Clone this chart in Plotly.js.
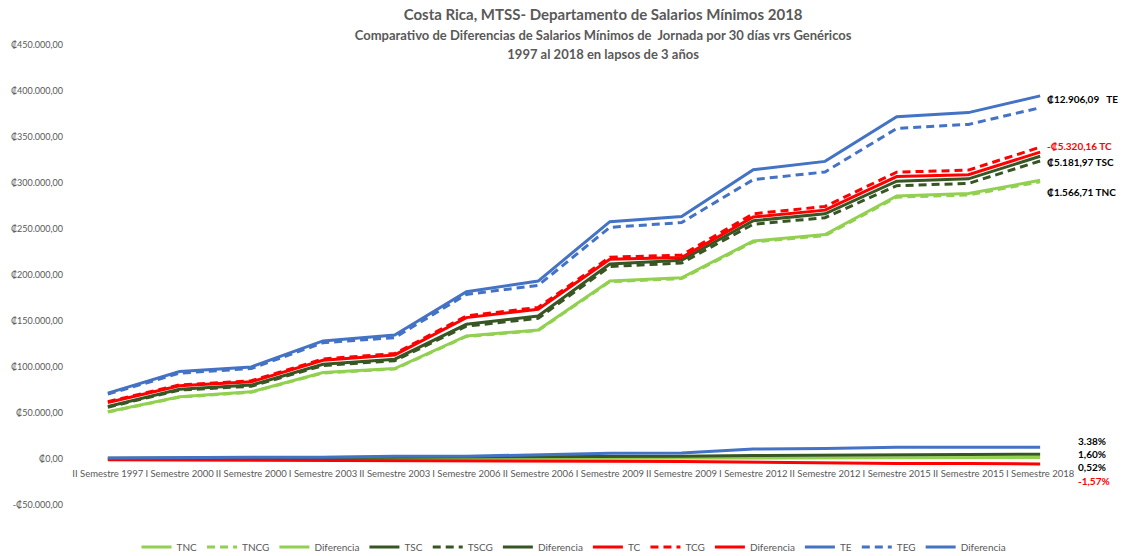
<!DOCTYPE html>
<html>
<head>
<meta charset="utf-8">
<script src="https://cdn.plot.ly/plotly-3.0.1.min.js"></script>
<style>html,body{margin:0;padding:0;background:#fff}#chart{width:1122px;height:556px}</style>
</head>
<body>
<div id="chart"></div>
<script>
const categories = ["II Semestre 1997","I Semestre 2000","II Semestre 2000","I Semestre 2003","II Semestre 2003","I Semestre 2006","II Semestre 2006","I Semestre 2009","II Semestre 2009","I Semestre 2012","II Semestre 2012","I Semestre 2015","II Semestre 2015","I Semestre 2018"];

const TNC   = [51300, 67600, 73000, 94000, 98300, 133800, 140300, 193500, 197000, 237000, 244000, 286000, 288500, 302900];
const TNCG  = [51000, 67200, 72600, 93500, 97800, 133200, 139600, 192700, 196100, 235900, 242800, 284600, 287000, 301333];
const TNCdif= [300, 400, 400, 500, 500, 600, 700, 800, 900, 1100, 1200, 1400, 1500, 1567];

const TSC   = [57100, 75900, 80300, 103000, 108500, 146400, 155400, 212000, 216000, 259000, 266500, 302000, 304500, 329100];
const TSCG  = [56300, 74900, 79100, 101600, 106900, 144400, 152900, 209200, 213000, 255200, 262300, 297100, 299500, 323918];
const TSCdif= [800, 1000, 1200, 1400, 1600, 2000, 2500, 2800, 3000, 3800, 4200, 4900, 5000, 5182];

const TC    = [61500, 79500, 83900, 107400, 113100, 153700, 162700, 217000, 219000, 263000, 270500, 307000, 309000, 333600];
const TCG   = [62400, 80500, 85000, 108700, 114600, 155500, 164800, 219400, 221600, 266500, 274500, 311800, 314000, 338920];
const TCdif = [-900, -1000, -1100, -1300, -1500, -1800, -2100, -2400, -2600, -3500, -4000, -4800, -5000, -5320];

const TE    = [71600, 95100, 100100, 128300, 134800, 181900, 193400, 258000, 263500, 314500, 323500, 372000, 376500, 394700];
const TEG   = [70500, 93300, 98300, 126400, 131900, 178900, 188700, 251800, 257000, 303700, 312000, 359300, 363700, 381794];
const TEdif = [1100, 1800, 1800, 1900, 2900, 3000, 4700, 6200, 6500, 10800, 11500, 12700, 12800, 12906];

const yTickVals = [-50000, 0, 50000, 100000, 150000, 200000, 250000, 300000, 350000, 400000, 450000];
const yTickText = ["-₡50.000,00","₡0,00","₡50.000,00","₡100.000,00","₡150.000,00","₡200.000,00","₡250.000,00","₡300.000,00","₡350.000,00","₡400.000,00","₡450.000,00"];

const endLabels = ["₡12.906,09   TE", "-₡5.320,16 TC", "₡5.181,97 TSC", "₡1.566,71 TNC"];
const endLabelY = [TE[13], TC[13], TSC[13], TNC[13]];
const endLabelShift = [-3, 6, -6, -12];
const endLabelColors = ["#000000", "#FF0000", "#000000", "#000000"];
const pctLabels = ["3.38%", "1,60%", "0,52%", "-1,57%"];
const pctColors = ["#000000", "#000000", "#000000", "#FF0000"];
const pctY = [18, 5, -8, -22];

const cLight = "#92D050", cDark = "#375623", cRed = "#FF0000", cBlue = "#4472C4";
const W = 3, DASH = "8px,5px";

function tr(name, y, color, dash) {
  return {type: "scatter", mode: "lines", name: name, x: categories, y: y,
    line: {color: color, width: W, dash: dash || "solid"}, hoverinfo: "skip"};
}

const data = [
  tr("TNC", TNC, cLight), tr("TNCG", TNCG, cLight, DASH), tr("Diferencia", TNCdif, cLight),
  tr("TSC", TSC, cDark), tr("TSCG", TSCG, cDark, DASH), tr("Diferencia", TSCdif, cDark),
  tr("TC", TC, cRed), tr("TCG", TCG, cRed, DASH), tr("Diferencia", TCdif, cRed),
  tr("TE", TE, cBlue), tr("TEG", TEG, cBlue, DASH), tr("Diferencia", TEdif, cBlue)
];

const annotations = [];
endLabels.forEach((t, i) => annotations.push({
  x: 13, y: endLabelY[i], xref: "x", yref: "y", text: "<b>" + t + "</b>", showarrow: false,
  xanchor: "left", yanchor: "middle", xshift: 5, yshift: endLabelShift[i],
  font: {family: "Lato, sans-serif", size: 10, color: endLabelColors[i]}
}));
pctLabels.forEach((t, i) => annotations.push({
  x: 13, y: 0, xref: "x", yref: "y", text: "<b>" + t + "</b>", showarrow: false,
  xanchor: "left", yanchor: "middle", xshift: 36, yshift: pctY[i],
  font: {family: "Lato, sans-serif", size: 10, color: pctColors[i]}
}));

const layout = {
  width: 1122, height: 556,
  paper_bgcolor: "#ffffff", plot_bgcolor: "#ffffff",
  margin: {l: 72, r: 46, t: 45, b: 51, autoexpand: false},
  font: {family: "Lato, sans-serif", color: "#595959"},
  title: {
    text: "<b>Costa Rica, MTSS- Departamento de Salarios Mínimos 2018</b><br><span style='font-size:13px'><b>Comparativo de Diferencias de Salarios Mínimos de  Jornada por 30 días vrs Genéricos</b></span><br><span style='font-size:13px'><b>1997 al 2018 en lapsos de 3 años</b></span>",
    x: 0.529, xref: "paper", xanchor: "center",
    y: 0.964, yref: "container", yanchor: "middle",
    font: {family: "Lato, sans-serif", size: 15, color: "#595959"}
  },
  showlegend: true,
  legend: {orientation: "h", x: 0.5, xanchor: "center", y: 0.0162, yref: "container", yanchor: "middle",
    font: {family: "Lato, sans-serif", size: 10, color: "#595959"}, itemwidth: 30, traceorder: "normal"},
  xaxis: {type: "category", range: [-0.5, 13.5], showgrid: false, zeroline: false, showline: false,
    ticks: "", tickangle: 0, anchor: "free", position: 0.1, ticklabelstandoff: 7,
    tickfont: {family: "Lato, sans-serif", size: 9.5, color: "#595959"}, automargin: false},
  yaxis: {range: [-50000, 450000], tickvals: yTickVals, ticktext: yTickText, showgrid: false,
    zeroline: false, showline: false, ticks: "", ticklabelstandoff: 8,
    tickfont: {family: "Lato, sans-serif", size: 9, color: "#595959"}, automargin: false},
  annotations: annotations
};

Plotly.newPlot("chart", data, layout, {displayModeBar: false, staticPlot: true});
</script>
</body>
</html>
